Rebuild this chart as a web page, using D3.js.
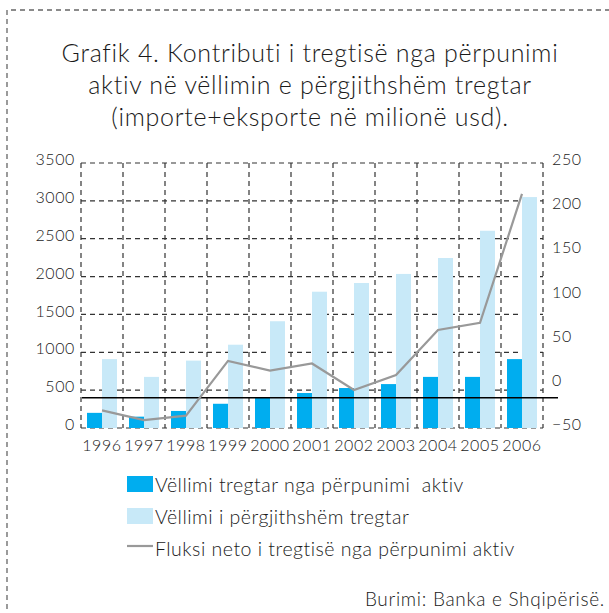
<!DOCTYPE html>
<html>
<head>
<meta charset="utf-8">
<script src="https://cdn.jsdelivr.net/npm/d3@7"></script>
<style>
  body { margin: 0; background: #fff; }
  svg { display: block; font-family: "Lato", "Noto Sans", sans-serif; font-weight: 300; font-variant-ligatures: none; }
  text { white-space: pre; }
  .grid line { stroke: #333; stroke-dasharray: 5,4; stroke-width: 1.2; }
  .axis text { fill: #1a1a1a; font-family: "Lato", "Noto Sans", sans-serif; font-weight: 300; font-size: 16px; letter-spacing: 0.6px; }
</style>
</head>
<body>
<svg id="chart"></svg>
<script>
// Data (milionë usd)
const years = ["1996", "1997", "1998", "1999", "2000", "2001", "2002", "2003", "2004", "2005", "2006"];
const activeVolume = [200, 150, 225, 320, 400, 462, 528, 580, 675, 675, 910];
const totalVolume = [910, 675, 890, 1100, 1410, 1800, 1915, 2035, 2245, 2605, 3050];
const netFlow = [-30, -41, -36, 26, 15, 23, -7, 10, 61, 69, 215];
const leftTicks = [0, 500, 1000, 1500, 2000, 2500, 3000, 3500];
const rightTicks = [-50, 0, 50, 100, 150, 200, 250];
const baseLineValue = 400; // solid black line drawn across the plot

const titleLines = [
  "Grafik 4. Kontributi i tregtisë nga përpunimi",
  "aktiv në vëllimin e përgjithshëm tregtar",
  "(importe+eksporte në milionë usd)."
];
const legendItems = [
  { label: "Vëllimi tregtar nga përpunimi  aktiv", type: "rect", color: "#00adef" },
  { label: "Vëllimi i përgjithshëm tregtar", type: "rect", color: "#c8e9f8" },
  { label: "Fluksi neto i tregtisë nga përpunimi aktiv", type: "line", color: "#999999" }
];

const W = 609, H = 613;
const margin = { top: 163, right: 66, bottom: 185, left: 81 };
const width = W - margin.left - margin.right;
const height = H - margin.top - margin.bottom;

const svg = d3.select("#chart").attr("width", W).attr("height", H);

// dashed frame
svg.append("path")
  .attr("d", `M7,${H + 5} V10 H${W + 5}`)
  .attr("fill", "none")
  .attr("stroke", "#666")
  .attr("stroke-width", 1.3)
  .attr("stroke-dasharray", "5,4");

// title
svg.append("g").selectAll("text")
  .data(titleLines)
  .join("text")
  .attr("x", 310)
  .attr("y", (d, i) => 62 + i * 32)
  .attr("text-anchor", "middle")
  .attr("font-size", 25)
  .attr("letter-spacing", 0.7)
  .attr("fill", "#1a1a1a")
  .text(d => d);

const chart = svg.append("g").attr("transform", `translate(${margin.left},${margin.top})`);

const xScale = d3.scaleBand().domain(years).range([0, width]);
const yLeft = d3.scaleLinear().domain([0, 3500]).range([height, 0]);
const yRight = d3.scaleLinear().domain([-50, 250]).range([height, 0]);

// grid
const grid = chart.append("g").attr("class", "grid");
grid.selectAll(".h")
  .data(leftTicks)
  .join("line")
  .attr("x1", 0).attr("x2", width)
  .attr("y1", d => yLeft(d)).attr("y2", d => yLeft(d));
grid.selectAll(".v")
  .data(years.concat(["end"]))
  .join("line")
  .attr("x1", (d, i) => i * xScale.step()).attr("x2", (d, i) => i * xScale.step())
  .attr("y1", 0).attr("y2", height);

// bars
const barW = 15;
const offset = (xScale.bandwidth() - 2 * barW) / 2;
chart.append("g").selectAll("rect")
  .data(totalVolume)
  .join("rect")
  .attr("x", (d, i) => xScale(years[i]) + offset + barW)
  .attr("width", barW)
  .attr("y", d => yLeft(d))
  .attr("height", d => height - yLeft(d))
  .attr("fill", legendItems[1].color);
chart.append("g").selectAll("rect")
  .data(activeVolume)
  .join("rect")
  .attr("x", (d, i) => xScale(years[i]) + offset)
  .attr("width", barW)
  .attr("y", d => yLeft(d))
  .attr("height", d => height - yLeft(d))
  .attr("fill", legendItems[0].color);

// black base line
chart.append("line")
  .attr("x1", 1).attr("x2", width + 15)
  .attr("y1", yLeft(baseLineValue)).attr("y2", yLeft(baseLineValue))
  .attr("stroke", "#000").attr("stroke-width", 1.5);

// net flow line
const line = d3.line()
  .x((d, i) => xScale(years[i]) + xScale.bandwidth() / 2)
  .y(d => yRight(d));
chart.append("path")
  .datum(netFlow)
  .attr("d", line)
  .attr("fill", "none")
  .attr("stroke", legendItems[2].color)
  .attr("stroke-width", 2.2);

// axes
const xAxis = d3.axisBottom(xScale).tickSize(0).tickPadding(12);
const xg = chart.append("g").attr("class", "axis").attr("transform", `translate(0,${height})`).call(xAxis);
xg.select(".domain").remove();

const yAxisL = d3.axisLeft(yLeft).tickValues(leftTicks).tickFormat(d3.format("d")).tickSize(0).tickPadding(6);
const ylg = chart.append("g").attr("class", "axis").call(yAxisL);
ylg.select(".domain").remove();
ylg.selectAll("text").attr("dy", "0.1em");

const yAxisR = d3.axisRight(yRight).tickValues(rightTicks).tickFormat(d3.format("d")).tickSize(0).tickPadding(9);
const yrg = chart.append("g").attr("class", "axis").attr("transform", `translate(${width},0)`).call(yAxisR);
yrg.select(".domain").remove();
yrg.selectAll("text").attr("dy", "0.1em");

// legend
const legend = svg.append("g").attr("transform", "translate(127,476)");
const rows = legend.selectAll("g")
  .data(legendItems)
  .join("g")
  .attr("transform", (d, i) => `translate(0,${i * 32})`);
rows.filter(d => d.type === "rect").append("rect")
  .attr("width", 26).attr("height", 16)
  .attr("fill", d => d.color);
rows.filter(d => d.type === "line").append("line")
  .attr("x1", 0).attr("x2", 26).attr("y1", 6).attr("y2", 6)
  .attr("stroke", d => d.color).attr("stroke-width", 2.2);
rows.append("text")
  .attr("x", 28)
  .attr("y", 16)
  .attr("font-size", 19.5)
  .attr("letter-spacing", 0.5)
  .attr("fill", "#1a1a1a")
  .text(d => d.label);

// source
svg.append("text")
  .attr("x", 605)
  .attr("y", 606)
  .attr("text-anchor", "end")
  .attr("font-size", 19)
  .attr("letter-spacing", 0.7)
  .attr("fill", "#1a1a1a")
  .text("Burimi: Banka e Shqipërisë.");
</script>
</body>
</html>
